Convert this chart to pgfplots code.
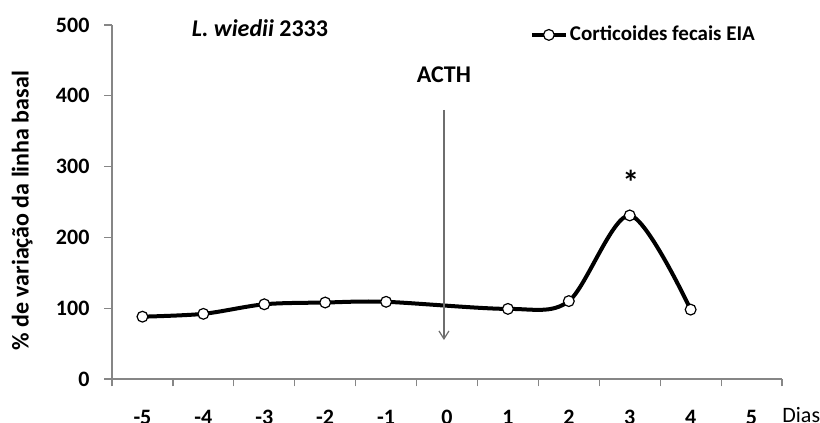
\documentclass[border=0pt]{standalone}
\usepackage{fontspec}
\setmainfont{Carlito}
\usepackage{pgfplots}
\pgfplotsset{compat=1.18}
\usetikzlibrary{arrows.meta}
\definecolor{axgray}{RGB}{134,134,134}
\definecolor{arrgray}{RGB}{110,110,110}
\begin{document}
\begin{tikzpicture}
\begin{axis}[name=ax, scale only axis, width=335pt, height=177pt,
  xmin=-5.5, xmax=5.5, ymin=0, ymax=500,
  axis x line=bottom, axis y line=left,
  axis line style={-, draw=axgray, line width=0.6pt},
  xtick={-5.5,-4.5,-3.5,-2.5,-1.5,-0.5,0.5,1.5,2.5,3.5,4.5,5.5},
  x tick label as interval,
  xticklabels={-5,-4,-3,-2,-1,0,1,2,3,4,5,},
  ytick={0,100,200,300,400,500},
  yticklabels={0,100,200,300,400,500},
  tick align=outside, major tick length=3.75pt,
  tick style={draw=axgray, line width=0.6pt},
  xticklabel style={font=\fontsize{11}{13}\selectfont\bfseries, inner ysep=0pt, yshift=-11.5pt},
  yticklabel style={font=\fontsize{11}{13}\selectfont\bfseries, xshift=-4pt},
  ylabel={\% de variação da linha basal},
  ylabel style={font=\fontsize{12}{14}\selectfont\bfseries, at={(axis description cs:-0.134,0.475)}, anchor=center},
  legend style={at={(axis description cs:0.623,0.972)}, anchor=west, draw=none, fill=none,
    font=\fontsize{10.5}{12}\selectfont\bfseries, inner sep=0pt, nodes={inner xsep=1pt}},
  legend cell align=left,
  clip=false,
]
\addplot[black, line width=2pt, smooth, mark=*, mark size=2.7pt,
  mark options={fill=white, draw=black, line width=0.6pt}]
  coordinates {(-5,88)(-4,92)(-3,105.5)(-2,108)(-1,109)(1,99)(2,110)(3,231)(4,98)};
\addlegendentry{Corticoides fecais EIA}
\draw[arrgray, line width=0.6pt, -{Straight Barb[length=4pt,width=5pt]}] (axis cs:-0.05,380) -- (axis cs:-0.05,55);
\node[font=\fontsize{12}{14}\selectfont\bfseries] at (axis cs:-0.05,430) {ACTH};
\node[font=\fontsize{17}{19}\selectfont\bfseries] at (axis cs:3.02,278) {*};
\node[font=\fontsize{12}{14}\selectfont\bfseries] at (axis cs:-3.07,496) {\textit{L. wiedii} 2333};
\end{axis}
\node[anchor=west, inner sep=0pt, font=\fontsize{11}{13}\selectfont] at ([yshift=-18pt]ax.south east) {Dias};
\pgfresetboundingbox
\path ([shift={(-56pt,-22pt)}]ax.south west) rectangle ([shift={(19pt,12.5pt)}]ax.north east);
\end{tikzpicture}
\end{document}
